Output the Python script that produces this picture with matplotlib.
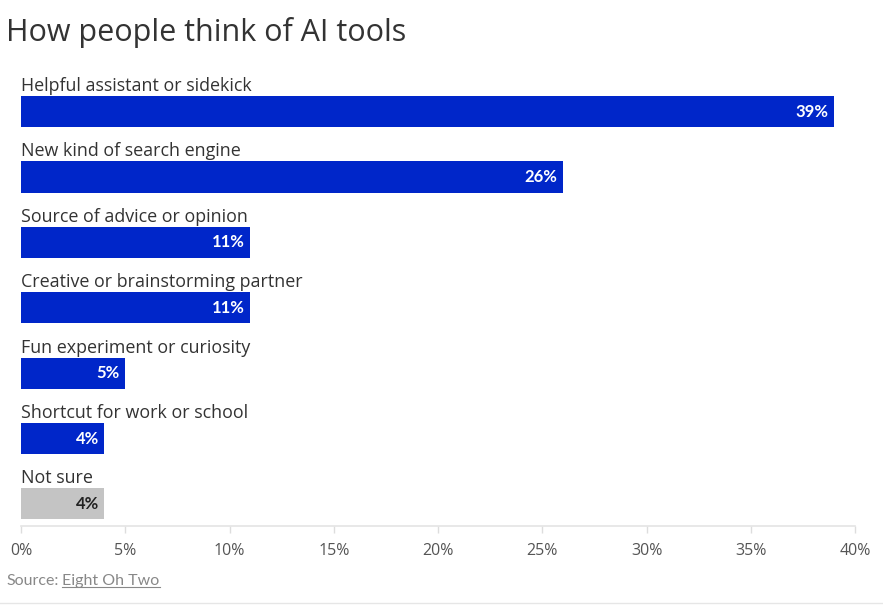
import matplotlib.pyplot as plt
from matplotlib.lines import Line2D

categories = [
    "Helpful assistant or sidekick",
    "New kind of search engine",
    "Source of advice or opinion",
    "Creative or brainstorming partner",
    "Fun experiment or curiosity",
    "Shortcut for work or school",
    "Not sure",
]
values = [39, 26, 11, 11, 5, 4, 4]
bar_colors = ["#0026c9"] * 6 + ["#c4c4c4"]
label_colors = ["white"] * 6 + ["#222222"]
tick_vals = [0, 5, 10, 15, 20, 25, 30, 35, 40]
tick_labels = [f"{t}%" for t in tick_vals]

plt.rcParams['font.family'] = ['Open Sans', 'DejaVu Sans']

W, H = 883, 605
fig = plt.figure(figsize=(W / 100, H / 100), dpi=100)
fig.patch.set_facecolor("white")

# axes placed in pixel terms: x 21..855, y 70..526
ax = fig.add_axes([21 / W, 1 - 526 / H, (855 - 21) / W, (526 - 70) / H])
bar_h = 0.475
ypos = list(range(len(categories)))
ax.barh(ypos, values, height=bar_h, color=bar_colors, edgecolor=bar_colors, linewidth=0)
ax.set_xlim(0, 40)
ax.set_ylim(6.337, -0.636)

for i, (cat, v) in enumerate(zip(categories, values)):
    ax.text(0, i - bar_h / 2 - 0.077, cat, ha="left", va="baseline",
            fontsize=12.9, color="#333333")
    ax.annotate(f"{v}%", xy=(v, i), xytext=(-4, 0), textcoords="offset points",
                ha="right", va="center", fontsize=12, fontweight="bold",
                color=label_colors[i], family=['Lato', 'DejaVu Sans'])

for s in ["top", "right", "left"]:
    ax.spines[s].set_visible(False)
ax.spines["bottom"].set_color("#e4e4e4")
ax.spines["bottom"].set_linewidth(1.2)
ax.set_yticks([])
ax.set_xticks(tick_vals)
ax.set_xticklabels(tick_labels, fontsize=11.5, color="#555555")
ax.tick_params(axis="x", length=5, width=1, color="#dddddd", pad=7)

fig.text(6 / W, 1 - 32 / H, "How people think of AI tools", fontsize=22,
         color="#333333", ha="left", va="center")

src = fig.text(6 / W, 1 - 581 / H, "Source:", fontsize=11.5, color="#888888",
               ha="left", va="center", family=['Lato', 'DejaVu Sans'])
fig.canvas.draw()
bb = src.get_window_extent()
link = fig.text((bb.x1 + 4) / W, 1 - 581 / H, "Eight Oh Two", fontsize=11.5, color="#888888",
                ha="left", va="center", family=['Lato', 'DejaVu Sans'])
fig.canvas.draw()
lb = link.get_window_extent()
fig.add_artist(Line2D([lb.x0 / W, lb.x1 / W], [(lb.y0 + 1) / H, (lb.y0 + 1) / H],
                      color="#888888", linewidth=0.8))
fig.add_artist(Line2D([0, 1], [1 - 603 / H, 1 - 603 / H], color="#e6e6e6", linewidth=1))

fig.savefig("out.png", dpi=100, facecolor="white")
